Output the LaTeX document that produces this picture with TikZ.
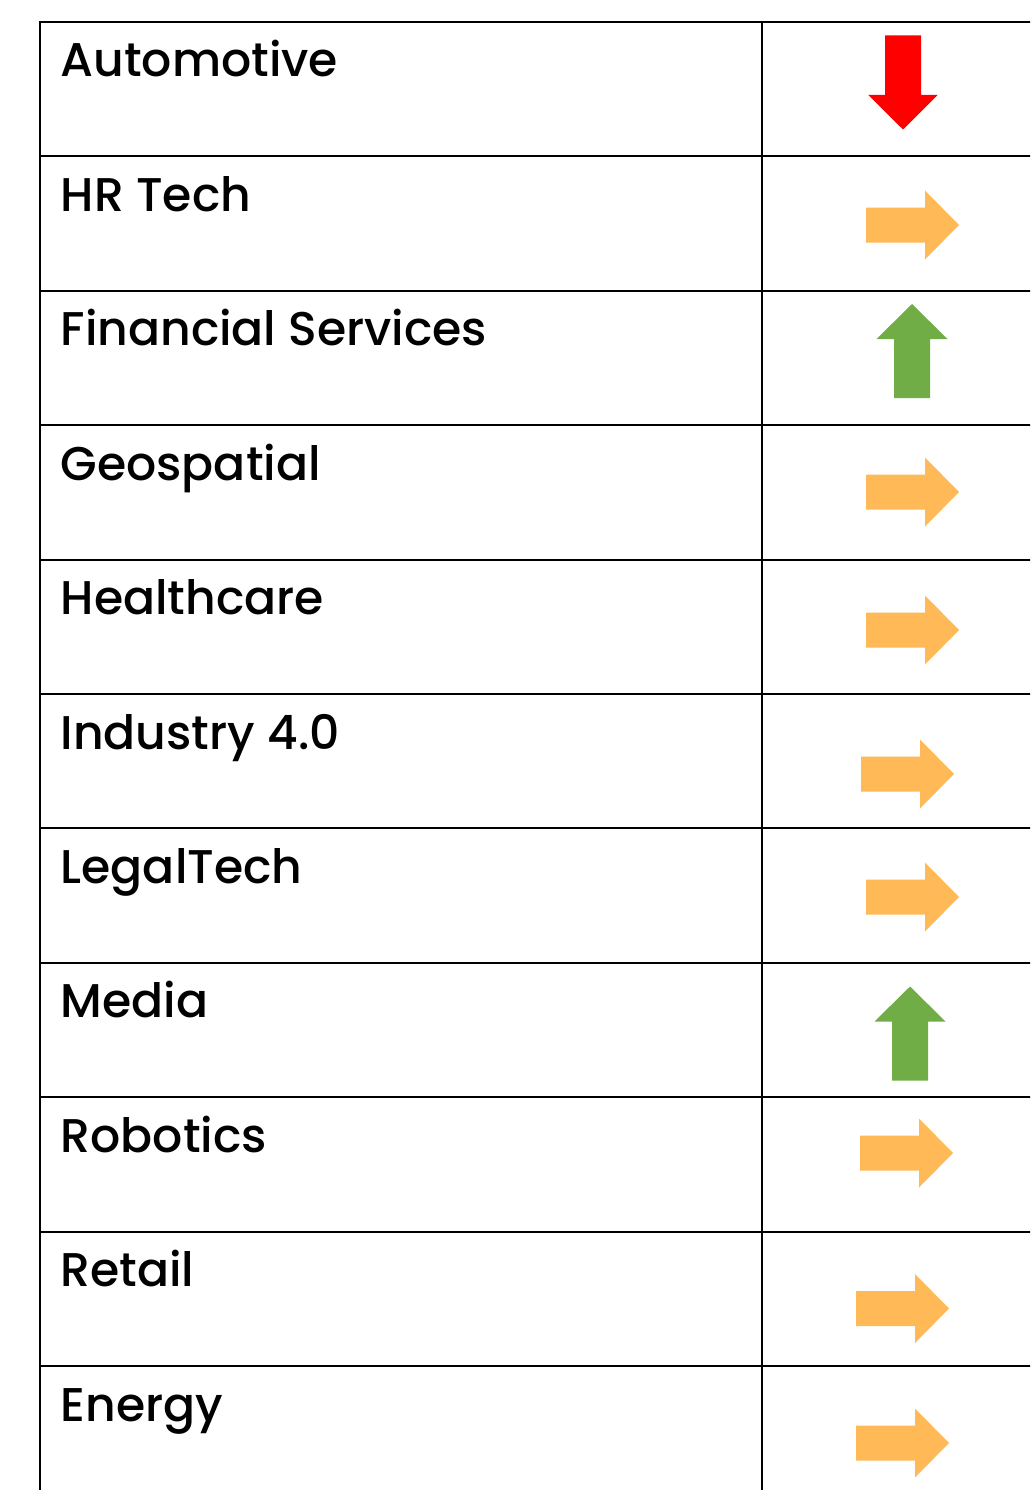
\documentclass[tikz,border=0pt]{standalone}
\usepackage{fontspec}
\setmainfont{Poppins}[UprightFont=* Medium]

\definecolor{trendred}{HTML}{FF0000}
\definecolor{trendorange}{HTML}{FFB956}
\definecolor{trendgreen}{HTML}{70AD47}

\tikzset{
    sector/.style={anchor=base west, inner sep=0pt,
        font=\fontsize{47.3}{55}\selectfont},
    grid line/.style={line width=2pt},
    trend right/.pic={
        \fill [trendorange] (-46.5, -17.5) -- (12.5, -17.5) -- (12.5, -34.5)
            -- (46.5, 0) -- (12.5, 34.5) -- (12.5, 17.5) -- (-46.5, 17.5) -- cycle;
    },
    trend up/.pic={
        \fill [trendgreen] (-18, 47) -- (-18, -12) -- (-35.5, -12)
            -- (0, -47) -- (35.5, -12) -- (18, -12) -- (18, 47) -- cycle;
    },
    trend down/.pic={
        \fill [trendred] (-18, -47) -- (-18, 12.5) -- (-34.7, 12.5)
            -- (0, 47) -- (34.7, 12.5) -- (18, 12.5) -- (18, -47) -- cycle;
    },
}

\begin{document}
\begin{tikzpicture}[x=1pt, y=-1pt]
    \useasboundingbox (0, 0) rectangle (1030, 1490);
    \clip (0, 0) rectangle (1030, 1490);

    % table rules
    \draw [grid line] (40, 1495) -- (40, 22) -- (1040, 22);
    \draw [grid line] (762, 22) -- (762, 1495);
    \foreach \y in {156.4, 290.8, 425.2, 559.6, 694, 828.4, 962.8, 1097.2, 1231.6, 1366}
        \draw [grid line] (40, \y) -- (1040, \y);

    % sectors
    \node [sector] (automotive) at (60.5, 77) {Automotive};
    \node [sector] (hrtech)     at (60.5, 211.4) {HR Tech};
    \node [sector] (financial)  at (60.5, 345.8) {Financial Services};
    \node [sector] (geospatial) at (60.5, 480.2) {Geospatial};
    \node [sector] (healthcare) at (60.5, 614.6) {Healthcare};
    \node [sector] (industry)   at (60.5, 749) {Industry 4.0};
    \node [sector] (legaltech)  at (60.5, 883.4) {LegalTech};
    \node [sector] (media)      at (60.5, 1017.8) {Media};
    \node [sector] (robotics)   at (60.5, 1152.2) {Robotics};
    \node [sector] (retail)     at (60.5, 1286.6) {Retail};
    \node [sector] (energy)     at (60.5, 1421) {Energy};

    % trends
    \pic at (903, 82.5) {trend down};
    \pic at (912.5, 225) {trend right};
    \pic at (912, 351) {trend up};
    \pic at (912.5, 492) {trend right};
    \pic at (912.5, 630) {trend right};
    \pic at (907.5, 774) {trend right};
    \pic at (912.5, 897) {trend right};
    \pic at (910, 1033.5) {trend up};
    \pic at (906.5, 1153) {trend right};
    \pic at (902.5, 1308.5) {trend right};
    \pic at (902.5, 1443) {trend right};
\end{tikzpicture}
\end{document}
